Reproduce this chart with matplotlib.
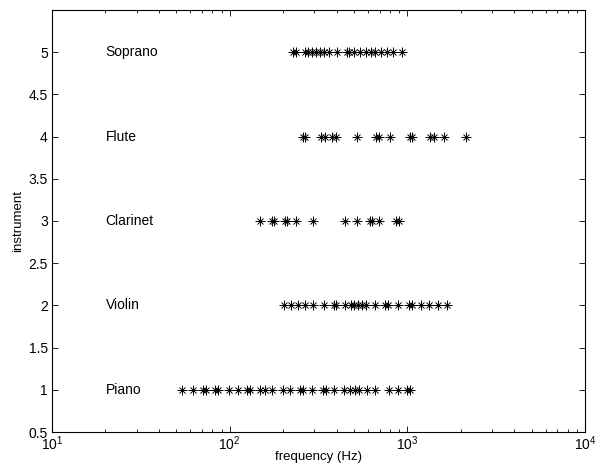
import matplotlib
matplotlib.use("Agg")
import matplotlib.pyplot as plt
from matplotlib.ticker import LogLocator, FixedLocator, FixedFormatter, LogFormatterMathtext

plt.rcParams['font.family'] = ['Liberation Sans', 'DejaVu Sans']
plt.rcParams['mathtext.fontset'] = 'custom'
plt.rcParams['mathtext.rm'] = 'Liberation Sans'
plt.rcParams['mathtext.it'] = 'Liberation Sans'
plt.rcParams['mathtext.default'] = 'regular'

instruments = ["Piano", "Violin", "Clarinet", "Flute", "Soprano"]
levels = [1, 2, 3, 4, 5]

piano_hz = [53.7, 62.0, 71.0, 73.5, 83.2, 86.5, 98.9, 110.9, 125.4, 129.8,
            147.8, 158.4, 173.1, 198.9, 219.8, 247.3, 259.9, 291.5, 335.0,
            346.8, 388.7, 439.9, 478.5, 510.5, 536.0, 592.5, 654.5, 785.8,
            889.7, 992.5, 1032.0]
violin_hz = [201, 222, 243, 264, 296, 338, 387, 398, 444, 479, 503, 528,
             555, 584, 661, 748, 775, 890, 1021, 1063, 1198, 1322, 1496, 1678]
clarinet_hz = [147.8, 173, 178, 206, 211, 236, 296, 444, 524, 614, 636,
               694, 867, 898]
flute_hz = [257.6, 266.8, 327, 342, 379, 395, 524, 670, 694, 794, 1033,
            1064, 1337, 1404, 1613, 2151]
soprano_hz = [227.7, 235.7, 264, 277, 291.5, 306, 322, 338, 361, 402, 455,
              471, 502, 542, 584, 622, 660, 712, 767, 826, 935]

series = [piano_hz, violin_hz, clarinet_hz, flute_hz, soprano_hz]

y_ticks = [0.5, 1, 1.5, 2, 2.5, 3, 3.5, 4, 4.5, 5]
y_tick_labels = ["0.5", "1", "1.5", "2", "2.5", "3", "3.5", "4", "4.5", "5"]

fig = plt.figure(figsize=(6.01, 4.66), dpi=100)
ax = fig.add_axes([52 / 601, 34 / 466, 533 / 601, 422 / 466])

for name, lvl, hz in zip(instruments, levels, series):
    ax.plot(hz, [lvl] * len(hz), linestyle='none', marker='+',
            markersize=6.5, markeredgewidth=0.7, color='black')
    ax.plot(hz, [lvl] * len(hz), linestyle='none', marker='x',
            markersize=4.6, markeredgewidth=0.7, color='black')
    ax.text(20, lvl, name, fontsize=10, va='center', ha='left')

ax.set_xscale('log')
ax.set_xlim(10, 1e4)
ax.set_ylim(0.5, 5.5)
ax.xaxis.set_major_locator(LogLocator(base=10))
ax.xaxis.set_major_formatter(LogFormatterMathtext())
ax.xaxis.set_minor_locator(LogLocator(base=10, subs=range(2, 10)))
ax.yaxis.set_major_locator(FixedLocator(y_ticks))
ax.yaxis.set_major_formatter(FixedFormatter(y_tick_labels))

ax.tick_params(which='both', direction='in', top=True, right=True,
               labelsize=10, width=0.6)
ax.tick_params(which='major', length=4.5)
ax.tick_params(which='minor', length=2.5)
ax.tick_params(axis='x', pad=1.5)
ax.tick_params(axis='y', pad=3)
for s in ax.spines.values():
    s.set_linewidth(0.8)

ax.set_xlabel("frequency (Hz)", fontsize=9.5, labelpad=-1.5)
ax.set_ylabel("instrument", fontsize=9.5, labelpad=3)

fig.savefig("out.png", dpi=100)
